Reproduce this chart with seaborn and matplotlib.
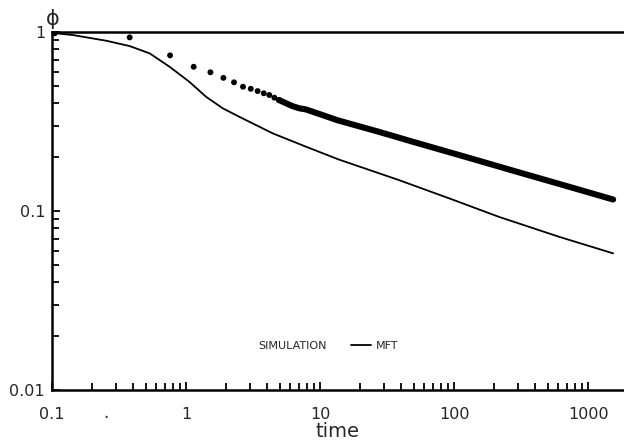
import numpy as np
import pandas as pd
import seaborn as sns
import matplotlib.pyplot as plt
from matplotlib.lines import Line2D
from matplotlib.ticker import LogLocator, NullFormatter, FixedFormatter, FixedLocator

# simulation: separate dots at early times
sim_dot_time = [0.105, 0.38, 0.76, 1.14, 1.52, 1.90, 2.28, 2.66, 3.04, 3.42, 3.80, 4.18, 4.56, 4.94]
sim_dot_phi = [0.985, 0.934, 0.741, 0.640, 0.596, 0.555, 0.524, 0.495, 0.482, 0.468, 0.455, 0.445, 0.430, 0.417]

# simulation: dots merge into a thick band later on
sim_band_time = [4.94, 6.2, 7.0, 7.8, 10.4, 13.4, 27.5, 50, 121, 300, 700, 1535]
sim_band_phi = [0.417, 0.386, 0.375, 0.370, 0.344, 0.322, 0.277, 0.243, 0.201, 0.165, 0.1375, 0.116]

# mean field theory curve
mft_time = [0.1, 0.144, 0.255, 0.38, 0.536, 0.754, 1.06, 1.41, 1.88, 2.5, 4.42, 7.83, 13.8, 38.7, 100, 214, 600, 1535]
mft_phi = [0.99, 0.962, 0.894, 0.835, 0.76, 0.64, 0.527, 0.435, 0.375, 0.336, 0.272, 0.229, 0.194, 0.149, 0.115, 0.093, 0.072, 0.058]

x_ticks = [0.1, 1, 10, 100, 1000]
x_tick_labels = ["0.1", "1", "10", "100", "1000"]
y_ticks = [0.01, 0.1, 1]
y_tick_labels = ["0.01", "0.1", "1"]

dots = pd.DataFrame({"time": sim_dot_time, "phi": sim_dot_phi})
band = pd.DataFrame({"time": sim_band_time, "phi": sim_band_phi})
mft = pd.DataFrame({"time": mft_time, "phi": mft_phi})

sns.set_style("ticks")
plt.rcParams["font.family"] = ["DejaVu Sans"]

fig = plt.figure(figsize=(6.24, 4.43), dpi=100)
ax = fig.add_axes([0.0833, 0.1196, 0.9167, 0.808])

sns.lineplot(data=band, x="time", y="phi", ax=ax, color="black", lw=4.4,
             solid_capstyle="round", estimator=None, sort=False)
sns.scatterplot(data=dots, x="time", y="phi", ax=ax, color="black", s=18,
                edgecolor="none")
sns.lineplot(data=mft, x="time", y="phi", ax=ax, color="black", lw=1.3,
             estimator=None, sort=False)

ax.set_xscale("log")
ax.set_yscale("log")
ax.set_xlim(0.1, 1850)
ax.set_ylim(0.01, 1)

ax.xaxis.set_major_locator(FixedLocator(x_ticks))
ax.xaxis.set_major_formatter(FixedFormatter(x_tick_labels))
ax.yaxis.set_major_locator(FixedLocator(y_ticks))
ax.yaxis.set_major_formatter(FixedFormatter(y_tick_labels))
ax.xaxis.set_minor_locator(LogLocator(base=10, subs=np.arange(2, 10), numticks=20))
ax.yaxis.set_minor_locator(LogLocator(base=10, subs=np.arange(2, 10), numticks=20))
ax.xaxis.set_minor_formatter(NullFormatter())
ax.yaxis.set_minor_formatter(NullFormatter())

ax.tick_params(which="both", direction="in", width=1.3, color="black",
               labelsize=11.5, top=False, right=False)
ax.tick_params(which="major", length=6)
ax.tick_params(which="minor", length=5)
ax.tick_params(axis="x", pad=12)
ax.tick_params(axis="y", pad=5)

for side in ["left", "bottom", "top"]:
    ax.spines[side].set_linewidth(1.8)
    ax.spines[side].set_color("black")
ax.spines["right"].set_visible(False)

ax.set_xlabel("time", fontsize=14, labelpad=0)
ax.set_ylabel("")
fig.text(0.084, 0.958, "ϕ", fontsize=15, ha="center", va="center")
# stray mark under the axis in the original scan
ax.text(0.094, -0.065, ".", transform=ax.transAxes, fontsize=12,
        ha="center", va="center")

handles = [Line2D([], [], ls="none"), Line2D([], [], color="black", lw=1.3)]
ax.legend(handles, ["SIMULATION", "MFT"], ncol=2, frameon=False,
          loc="center left", bbox_to_anchor=(0.318, 0.123),
          borderaxespad=0, borderpad=0, handlelength=1.8, handletextpad=0.4,
          columnspacing=2.2, prop={"size": 8})

fig.savefig("out.png", dpi=100)
